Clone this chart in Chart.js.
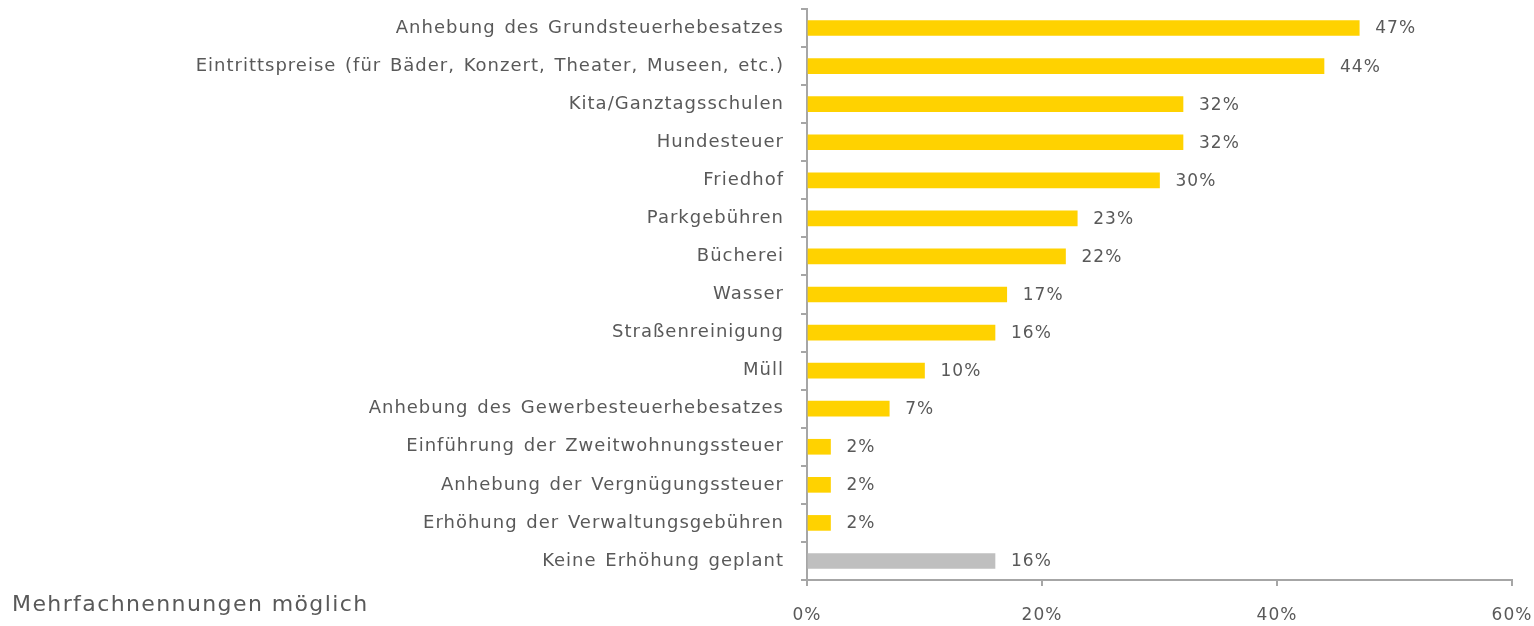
<!DOCTYPE html>
<html>
<head>
<meta charset="utf-8">
<script src="https://cdn.jsdelivr.net/npm/chart.js@4"></script>
<style>
  html, body { margin: 0; padding: 0; background: #fff; }
  #wrap { position: relative; width: 1534px; height: 626px; }
  #note {
    position: absolute; left: 12px; top: 591px;
    font-family: "DejaVu Sans", sans-serif; font-size: 22px; color: #595959;
    letter-spacing: 1.4px;
  }
</style>
</head>
<body>
<div id="wrap">
  <canvas id="chart" width="1534" height="626"></canvas>
  <div id="note">Mehrfachnennungen möglich</div>
</div>
<script>
const categories = [
  'Anhebung des Grundsteuerhebesatzes',
  'Eintrittspreise (für Bäder, Konzert, Theater, Museen, etc.)',
  'Kita/Ganztagsschulen',
  'Hundesteuer',
  'Friedhof',
  'Parkgebühren',
  'Bücherei',
  'Wasser',
  'Straßenreinigung',
  'Müll',
  'Anhebung des Gewerbesteuerhebesatzes',
  'Einführung der Zweitwohnungssteuer',
  'Anhebung der Vergnügungssteuer',
  'Erhöhung der Verwaltungsgebühren',
  'Keine Erhöhung geplant'
];
const values = [47, 44, 32, 32, 30, 23, 22, 17, 16, 10, 7, 2, 2, 2, 16];
const xTicks = [0, 20, 40, 60];

const textColor = '#595959';
const axisColor = '#a6a6a6';
const fontFamily = '"DejaVu Sans", sans-serif';
const barColors = categories.map(c => c === 'Keine Erhöhung geplant' ? '#bfbfbf' : '#ffd200');

// a little extra letter spacing, close to the original typeface
const spacing = {
  id: 'spacing',
  beforeDraw(chart) {
    chart.ctx.letterSpacing = '1px';
    chart.ctx.wordSpacing = '2px';
  }
};

// value labels at the end of each bar
const valueLabels = {
  id: 'valueLabels',
  afterDatasetsDraw(chart) {
    const ctx = chart.ctx;
    const meta = chart.getDatasetMeta(0);
    ctx.save();
    ctx.font = '17px ' + fontFamily;
    ctx.fillStyle = textColor;
    ctx.textBaseline = 'middle';
    ctx.textAlign = 'left';
    meta.data.forEach((bar, i) => {
      ctx.fillText(values[i] + '%', bar.x + 16, bar.y + 1);
    });
    ctx.restore();
  }
};

new Chart(document.getElementById('chart'), {
  type: 'bar',
  data: {
    labels: categories,
    datasets: [{
      data: values,
      backgroundColor: barColors,
      borderWidth: 0,
      barThickness: 15
    }]
  },
  options: {
    indexAxis: 'y',
    responsive: false,
    animation: false,
    layout: { padding: { top: 9, right: 22, left: 0, bottom: 0 } },
    plugins: { legend: { display: false }, tooltip: { enabled: false } },
    scales: {
      x: {
        min: 0, max: 60,
        afterBuildTicks(scale) { scale.ticks = xTicks.map(v => ({ value: v })); },
        afterFit(scale) {
          scale.height = 46;
          scale.paddingLeft = 0;
          scale.paddingRight = 0;
        },
        border: { color: axisColor, width: 2 },
        grid: { drawOnChartArea: false, drawTicks: true, tickLength: 6, color: axisColor, lineWidth: 2 },
        ticks: {
          padding: 19,
          color: textColor,
          font: { family: fontFamily, size: 17 },
          callback: v => v + '%'
        }
      },
      y: {
        afterFit(scale) {
          scale.width = 807;
          scale.paddingTop = 0;
          scale.paddingBottom = 0;
        },
        border: { color: axisColor, width: 2 },
        grid: { drawOnChartArea: false, drawTicks: true, tickLength: 6, color: axisColor, lineWidth: 2 },
        ticks: {
          padding: 17,
          color: textColor,
          font: { family: fontFamily, size: 18 }
        }
      }
    }
  },
  plugins: [spacing, valueLabels]
});
</script>
</body>
</html>
